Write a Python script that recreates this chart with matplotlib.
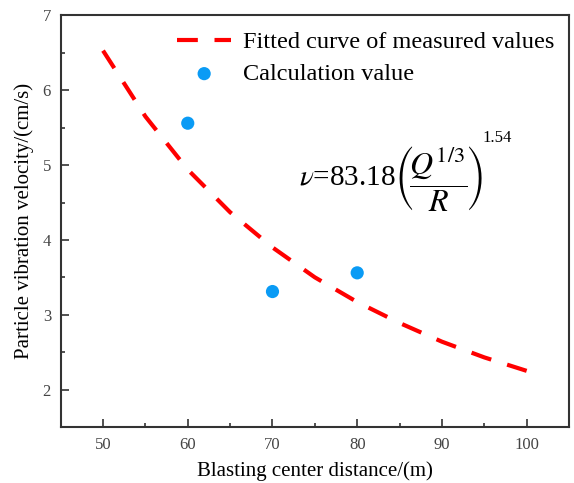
import numpy as np
import matplotlib.pyplot as plt
from matplotlib.ticker import MultipleLocator

# fitted curve
fit_R = [50, 55, 60, 65, 70, 75, 80, 85, 90, 95, 100]
fit_v = [6.53, 5.65, 4.94, 4.37, 3.90, 3.50, 3.17, 2.89, 2.64, 2.43, 2.25]

# calculated points
calc_R = [60, 70, 80]
calc_v = [5.56, 3.31, 3.56]

plt.rcParams['font.family'] = ['Liberation Serif', 'DejaVu Serif']
plt.rcParams['mathtext.fontset'] = 'stix'

fig = plt.figure(figsize=(5.74, 4.83), dpi=100)
ax = fig.add_axes([0.1057, 0.116, 0.8856, 0.852])

ax.plot(fit_R, fit_v, color='#ff0000', linewidth=3, dashes=(5, 4),
        label='Fitted curve of measured values')
ax.scatter(calc_R, calc_v, s=90, color='#0a9bf5', edgecolors='none', zorder=3,
           label='Calculation value')

ax.set_xlim(45, 105)
ax.set_ylim(1.5, 7)
ax.xaxis.set_major_locator(MultipleLocator(10))
ax.xaxis.set_minor_locator(MultipleLocator(5))
ax.yaxis.set_major_locator(MultipleLocator(1))
ax.yaxis.set_minor_locator(MultipleLocator(0.5))
ax.tick_params(which='both', direction='in', top=False, right=False,
               color='#333333', width=1.2, labelsize=12, labelcolor='#444444', pad=7)
ax.tick_params(which='major', length=6)
ax.tick_params(which='minor', length=3)
for s in ax.spines.values():
    s.set_linewidth(1.5)
    s.set_color('#333333')

ax.set_xlabel('Blasting center distance/(m)', fontsize=15, labelpad=6)
ax.set_ylabel('Particle vibration velocity/(cm/s)', fontsize=15, labelpad=6)

ax.legend(loc='upper right', frameon=False, fontsize=17.5, handlelength=2.2,
          borderaxespad=0.2, labelspacing=0.4, handletextpad=0.5,
          bbox_to_anchor=(1.0, 0.997))

# formula, in three pieces so the brackets can be taller than the number
ax.text(0.658, 0.590, r'$\nu$=83.18', transform=ax.transAxes,
        fontsize=21, va='baseline', ha='right')
ax.text(0.656, 0.605, r'$\left(\!\dfrac{Q^{1/3}}{R}\!\right)$', transform=ax.transAxes,
        fontsize=23, va='center', ha='left')
ax.text(0.829, 0.6926, '1.54', transform=ax.transAxes,
        fontsize=12, va='baseline', ha='left')

fig.savefig('out.png', dpi=100)
